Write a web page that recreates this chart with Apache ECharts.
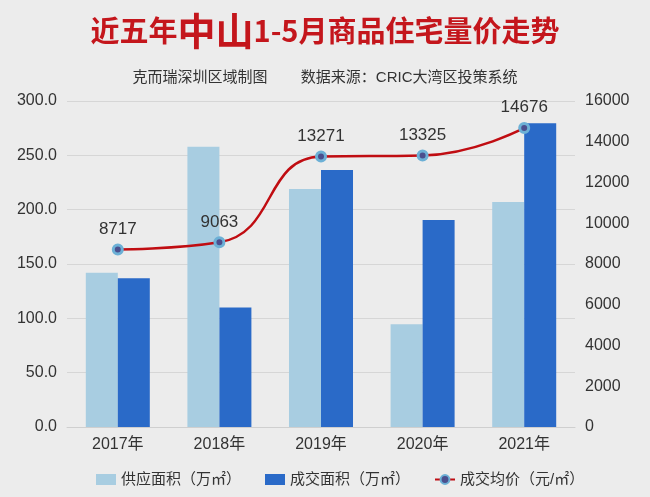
<!DOCTYPE html>
<html>
<head>
<meta charset="utf-8">
<script src="https://cdn.jsdelivr.net/npm/echarts@6/dist/echarts.min.js"></script>
<style>
  html, body { margin: 0; padding: 0; background: #ececec; }
  #myChart { width: 650px; height: 497px; }
</style>
</head>
<body>
<div id="myChart"></div>
<script>
const years = ['2017年', '2018年', '2019年', '2020年', '2021年']
const supplyArea = [142, 258, 219, 94.5, 207]
const dealArea = [137, 110, 236.5, 190.5, 279.5]
const avgPrice = [8717, 9063, 13271, 13325, 14676]

const FONT = '"Liberation Sans", "Noto Sans CJK SC", sans-serif'
const myChart = echarts.init(document.getElementById('myChart'))
myChart.setOption({
  backgroundColor: '#ececec',
  textStyle: { fontFamily: FONT },
  title: [{
    text: '{a|近五年}{b|中山}{a|1-5月商品住宅量价走势}',
    left: 'center',
    top: 7,
    textStyle: {
      rich: {
        a: { fontSize: 29, fontWeight: 'bold', color: '#c4161c', fontFamily: '"Noto Sans CJK SC", sans-serif' },
        b: { fontSize: 38, fontWeight: 'bold', color: '#c4161c', fontFamily: '"Noto Sans CJK SC", sans-serif' }
      }
    }
  }, {
    text: '克而瑞深圳区域制图        数据来源：CRIC大湾区投策系统',
    left: 'center',
    top: 65,
    textStyle: { fontSize: 15, fontWeight: 'normal', color: '#333', fontFamily: FONT }
  }],
  legend: {
    bottom: 5,
    left: 91,
    itemGap: 24,
    itemWidth: 20,
    itemHeight: 11,
    textStyle: { fontSize: 15, color: '#333' },
    data: [
      { name: '供应面积（万㎡）', icon: 'rect' },
      { name: '成交面积（万㎡）', icon: 'rect' },
      { name: '成交均价（元/㎡）' }
    ]
  },
  grid: { left: 67, right: 75, top: 101, bottom: 70 },
  xAxis: {
    type: 'category',
    data: years,
    axisTick: { show: false },
    axisLine: { lineStyle: { color: '#cfcfcf' } },
    axisLabel: { fontSize: 16, color: '#333', margin: 10 }
  },
  yAxis: [{
    type: 'value',
    min: 0,
    max: 300,
    interval: 50,
    axisLabel: { fontSize: 16, color: '#333', margin: 10, formatter: v => v.toFixed(1) },
    splitLine: { lineStyle: { color: '#d6d6d6' } }
  }, {
    type: 'value',
    min: 0,
    max: 16000,
    interval: 2000,
    axisLabel: { fontSize: 16, color: '#333', margin: 10, formatter: v => String(v) },
    splitLine: { show: false }
  }],
  series: [{
    name: '供应面积（万㎡）',
    type: 'bar',
    data: supplyArea,
    barGap: '0%',
    barCategoryGap: '37%',
    itemStyle: { color: '#a8cde1' }
  }, {
    name: '成交面积（万㎡）',
    type: 'bar',
    data: dealArea,
    itemStyle: { color: '#2a6ac8' }
  }, {
    name: '成交均价（元/㎡）',
    type: 'line',
    yAxisIndex: 1,
    data: avgPrice,
    smooth: 0.5,
    symbol: 'circle',
    symbolSize: 9,
    lineStyle: { color: '#c00d12', width: 2.5 },
    itemStyle: { color: '#4b4f8e', borderColor: '#6cb0d6', borderWidth: 3 },
    label: { show: true, position: 'top', distance: 6, fontSize: 17, color: '#333' },
    z: 5
  }]
})
</script>
</body>
</html>
